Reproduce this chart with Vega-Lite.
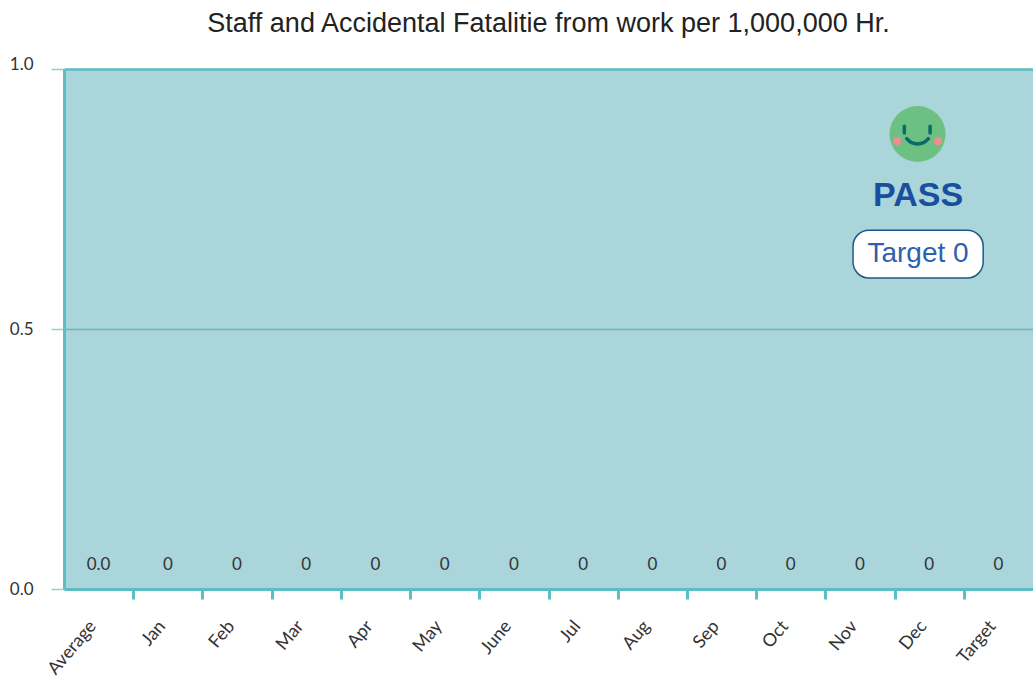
{
"$schema":"https://vega.github.io/schema/vega-lite/v6.json",
"width":969,"height":520,
"autosize":{"type":"none"},
"padding":{"left":64,"top":69,"right":0,"bottom":89},
"background":"white",
"view":{"fill":"#aad5da","stroke":null},
"title":{"text":"Staff and Accidental Fatalitie from work per 1,000,000 Hr.","font":"Liberation Sans","fontSize":27,"fontWeight":"normal","color":"#222222","anchor":"middle","offset":17},
"resolve":{"scale":{"x":"independent"}},
"layer":[
{"data":{"values":[
{"month":"Average","value":0,"label":"0.0"},{"month":"Jan","value":0,"label":"0"},{"month":"Feb","value":0,"label":"0"},{"month":"Mar","value":0,"label":"0"},{"month":"Apr","value":0,"label":"0"},{"month":"May","value":0,"label":"0"},{"month":"June","value":0,"label":"0"},{"month":"Jul","value":0,"label":"0"},{"month":"Aug","value":0,"label":"0"},{"month":"Sep","value":0,"label":"0"},{"month":"Oct","value":0,"label":"0"},{"month":"Nov","value":0,"label":"0"},{"month":"Dec","value":0,"label":"0"},{"month":"Target","value":0,"label":"0"}]},
"encoding":{
"x":{"field":"month","type":"nominal","sort":null,"title":null,"scale":{"paddingInner":0,"paddingOuter":0},
"axis":{"labelAngle":-50,"labelAlign":"right","labelBaseline":"middle","labelFont":"Lato","labelFontSize":18,"labelColor":"#333333","labelPadding":24,"labelOffset":-6,"tickBand":"extent","tickSize":10,"tickWidth":3,"tickColor":{"condition":{"test":"!datum.value || datum.value==='Target'","value":"transparent"},"value":"#5cbdc2"},"domainColor":"#5cbdc2","domainWidth":3,"grid":false}},
"y":{"field":"value","type":"quantitative","title":null,"scale":{"domain":[0,1],"nice":false},
"axis":{"values":[0,0.5,1],"format":".1f","labelFont":"Lato","labelFontSize":17,"labelColor":"#333333","labelPadding":18,"labelBaseline":"middle","labelOffset":{"condition":{"test":"datum.value===1","value":-5},"value":0},"tickSize":13,"tickWidth":1.5,"tickColor":"#8fd0d4","domainColor":"#5cbdc2","domainWidth":3,"grid":true,"gridColor":"#5cbdc2","gridOpacity":1,"gridWidth":{"condition":{"test":"datum.value===1","value":2.5},"value":1.5}}}
},
"layer":[
{"mark":{"type":"bar","color":"#5cbdc2"}},
{"mark":{"type":"text","font":"Lato","fontSize":17,"color":"#333333","dy":-24,"baseline":"middle"},"encoding":{"text":{"field":"label"}}}
]},
{"layer":[
{"data":{"values":[{"x":12.332,"y":0.875}]},"mark":{"type":"point","filled":true,"opacity":1,"color":"#6cc081","size":3136},
"encoding":{"x":{"field":"x","type":"quantitative","scale":{"domain":[0,14],"nice":false},"axis":null},"y":{"field":"y","type":"quantitative","title":null,"scale":{"domain":[0,1],"nice":false}}}},
{"data":{"values":[{"x":12.036,"y":0.8615},{"x":12.628,"y":0.8615}]},"mark":{"type":"point","filled":true,"opacity":1,"color":"#f58a94","size":64},
"encoding":{"x":{"field":"x","type":"quantitative"},"y":{"field":"y","type":"quantitative"}}},
{"data":{"values":[{"x":12.141,"y":0.89,"y2":0.877},{"x":12.513,"y":0.89,"y2":0.877}]},"mark":{"type":"rule","color":"#0b6a6a","strokeWidth":3.5,"strokeCap":"round"},
"encoding":{"x":{"field":"x","type":"quantitative"},"y":{"field":"y","type":"quantitative"},"y2":{"field":"y2"}}},
{"data":{"values":[{"x":12.176,"y":0.866},{"x":12.245,"y":0.8585},{"x":12.332,"y":0.856},{"x":12.418,"y":0.8585},{"x":12.488,"y":0.866}]},"mark":{"type":"line","color":"#0b6a6a","strokeWidth":3.5,"strokeCap":"round","interpolate":"monotone"},
"encoding":{"x":{"field":"x","type":"quantitative"},"y":{"field":"y","type":"quantitative"}}},
{"data":{"values":[{"x":12.339,"y":0.756,"t":"PASS"}]},"mark":{"type":"text","font":"Liberation Sans","fontWeight":"bold","fontSize":34,"color":"#1a4fa0","baseline":"middle"},
"encoding":{"x":{"field":"x","type":"quantitative"},"y":{"field":"y","type":"quantitative"},"text":{"field":"t"}}},
{"data":{"values":[{"x":11.4,"x2":13.28,"y":0.69,"y2":0.598}]},"mark":{"type":"rect","fill":"white","stroke":"#1c5a85","strokeWidth":1.5,"cornerRadius":16},
"encoding":{"x":{"field":"x","type":"quantitative"},"x2":{"field":"x2"},"y":{"field":"y","type":"quantitative"},"y2":{"field":"y2"}}},
{"data":{"values":[{"x":12.339,"y":0.644,"t":"Target 0"}]},"mark":{"type":"text","font":"Liberation Sans","fontSize":28,"color":"#2f5fb0","baseline":"middle"},
"encoding":{"x":{"field":"x","type":"quantitative"},"y":{"field":"y","type":"quantitative"},"text":{"field":"t"}}}
]}
]}
